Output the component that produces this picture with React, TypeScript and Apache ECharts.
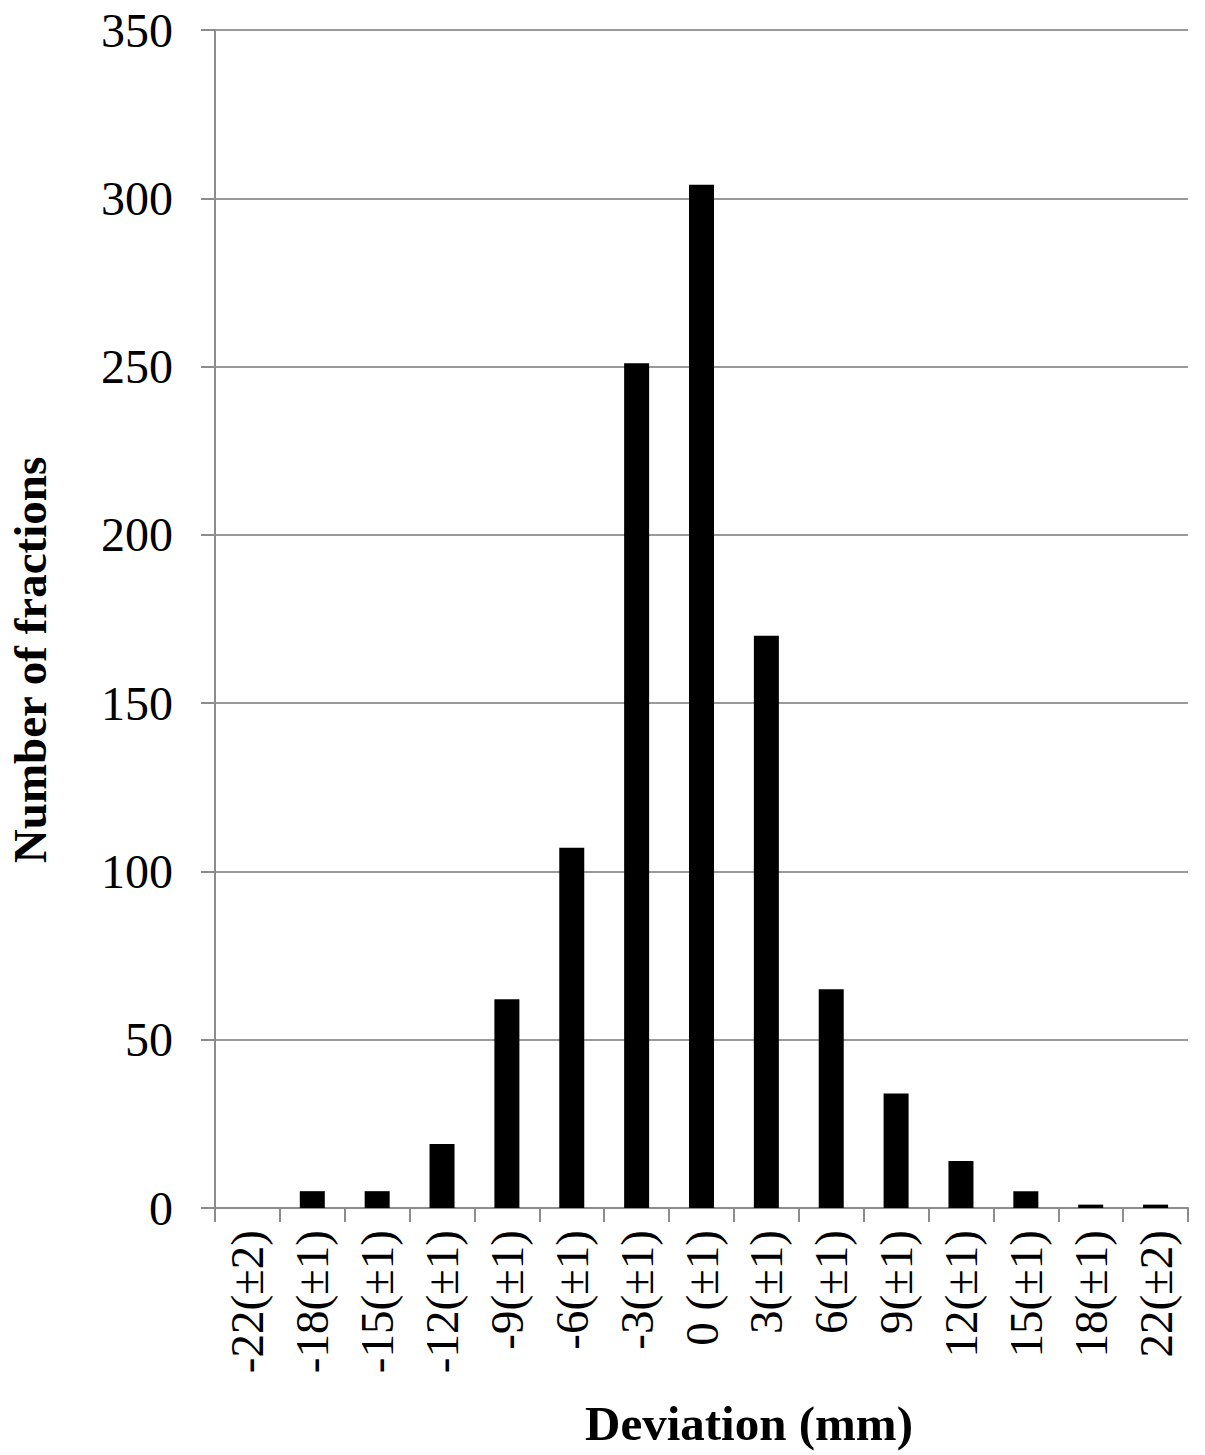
import React, { useEffect, useRef } from "react";
import * as echarts from "echarts";

const categories = [
  "-22(±2)", "-18(±1)", "-15(±1)", "-12(±1)", "-9(±1)", "-6(±1)", "-3(±1)",
  "0 (±1)", "3(±1)", "6(±1)", "9(±1)", "12(±1)", "15(±1)", "18(±1)", "22(±2)",
];
const fractions = [0, 5, 5, 19, 62, 107, 251, 304, 170, 65, 34, 14, 5, 1, 1];
const yTicks = { min: 0, max: 350, interval: 50 };
const xTitle = "Deviation (mm)";
const yTitle = "Number of fractions";

export default function App() {
  const ref = useRef<HTMLDivElement>(null);
  useEffect(() => {
    document.body.style.margin = "0";
    const chart = echarts.init(ref.current!, null, { renderer: "svg" });
    const font = "'Liberation Serif', 'Times New Roman', serif";
    chart.setOption({
      animation: false,
      backgroundColor: "#ffffff",
      grid: { left: 215, right: 17, top: 30, bottom: 247, containLabel: false },
      xAxis: {
        type: "category",
        data: categories,
        boundaryGap: true,
        axisLine: { show: true, lineStyle: { color: "#8c8c8c", width: 2 } },
        axisTick: { show: true, length: 14, inside: false, lineStyle: { color: "#8c8c8c", width: 2 } },
        axisLabel: {
          rotate: 90,
          interval: 0,
          margin: 22,
          color: "#000",
          fontFamily: font,
          fontSize: 47,
        },
        splitLine: { show: false },
      },
      yAxis: {
        type: "value",
        min: yTicks.min,
        max: yTicks.max,
        interval: yTicks.interval,
        axisLine: { show: true, lineStyle: { color: "#8c8c8c", width: 2 } },
        axisTick: { show: true, length: 14, inside: false, lineStyle: { color: "#8c8c8c", width: 2 } },
        axisLabel: {
          margin: 42,
          color: "#000",
          fontFamily: font,
          fontSize: 48,
        },
        splitLine: { show: true, lineStyle: { color: "#9a9a9a", width: 2 } },
      },
      graphic: [
        {
          type: "text",
          x: 749,
          y: 1423,
          style: {
            text: xTitle,
            align: "center",
            verticalAlign: "middle",
            fill: "#000",
            font: `bold 49px ${font}`,
          },
        },
        {
          type: "text",
          x: 30,
          y: 660,
          rotation: Math.PI / 2,
          style: {
            text: yTitle,
            align: "center",
            verticalAlign: "middle",
            fill: "#000",
            font: `bold 47px ${font}`,
          },
        },
      ],
      series: [
        {
          type: "bar",
          data: fractions,
          barWidth: 25,
          itemStyle: { color: "#000000" },
        },
      ],
    });
    return () => chart.dispose();
  }, []);
  return <div ref={ref} style={{ width: 1205, height: 1455 }} />;
}
